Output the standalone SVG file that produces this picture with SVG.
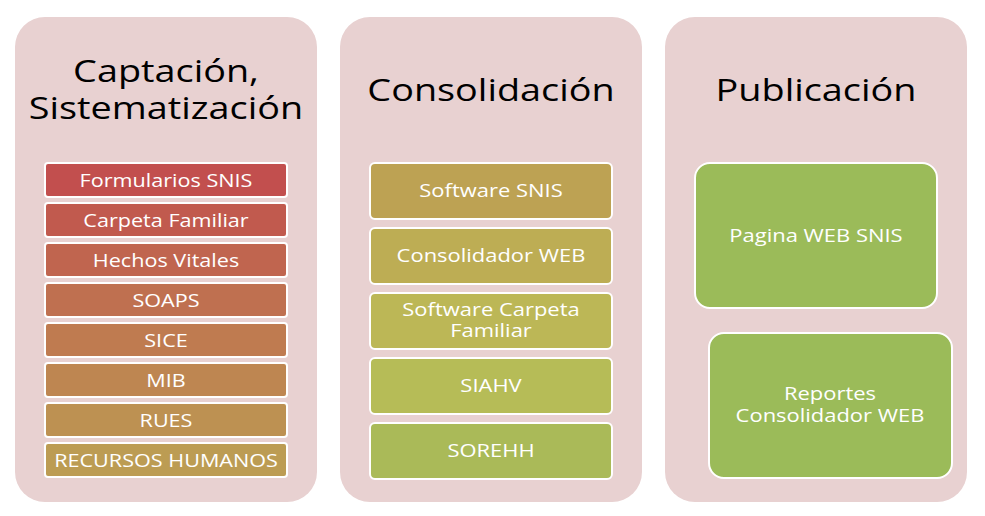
<svg xmlns="http://www.w3.org/2000/svg" width="985" height="516" viewBox="0 0 985 516">
<style>
.panel{fill:#E8D1D1}
.item{stroke:#FFFFFF;stroke-width:2}
.title{font-family:"Open Sans","Liberation Sans",sans-serif;font-size:31px;fill:#000000;text-anchor:middle}
.lbl{font-family:"Open Sans","Liberation Sans",sans-serif;font-size:18px;fill:#FFFFFF;text-anchor:middle}
</style>
<rect width="985" height="516" fill="#FFFFFF"/>
<g id="panel-captacion">
<rect class="panel" x="15" y="17" width="302" height="485" rx="30"/>
<text class="title" transform="translate(166 82) scale(1.22 1)">Captación,</text>
<text class="title" transform="translate(166 119) scale(1.22 1)">Sistematización</text>
</g>
<g id="panel-consolidacion">
<rect class="panel" x="340" y="17" width="302" height="485" rx="30"/>
<text class="title" transform="translate(491 101) scale(1.22 1)">Consolidación</text>
</g>
<g id="panel-publicacion">
<rect class="panel" x="665" y="17" width="302" height="485" rx="30"/>
<text class="title" transform="translate(816 101) scale(1.22 1)">Publicación</text>
</g>
<g id="n-formularios"><rect class="item" x="45" y="163" width="242" height="34" rx="3" fill="#C24F4E"/><text class="lbl" transform="translate(166 187) scale(1.2 1)">Formularios SNIS</text></g>
<g id="n-carpeta"><rect class="item" x="45" y="203" width="242" height="34" rx="3" fill="#C15A4E"/><text class="lbl" transform="translate(166 227) scale(1.2 1)">Carpeta Familiar</text></g>
<g id="n-hechos"><rect class="item" x="45" y="243" width="242" height="34" rx="3" fill="#C0654F"/><text class="lbl" transform="translate(166 267) scale(1.2 1)">Hechos Vitales</text></g>
<g id="n-soaps"><rect class="item" x="45" y="283" width="242" height="34" rx="3" fill="#BF7050"/><text class="lbl" transform="translate(166 307) scale(1.2 1)">SOAPS</text></g>
<g id="n-sice"><rect class="item" x="45" y="323" width="242" height="34" rx="3" fill="#BF7B50"/><text class="lbl" transform="translate(166 347) scale(1.2 1)">SICE</text></g>
<g id="n-mib"><rect class="item" x="45" y="363" width="242" height="34" rx="3" fill="#BE8651"/><text class="lbl" transform="translate(166 387) scale(1.2 1)">MIB</text></g>
<g id="n-rues"><rect class="item" x="45" y="403" width="242" height="34" rx="3" fill="#BD9152"/><text class="lbl" transform="translate(166 427) scale(1.2 1)">RUES</text></g>
<g id="n-rrhh"><rect class="item" x="45" y="443" width="242" height="34" rx="3" fill="#BC9C53"/><text class="lbl" transform="translate(166 467) scale(1.2 1)">RECURSOS HUMANOS</text></g>
<g id="n-software-snis"><rect class="item" x="370" y="163" width="242" height="56" rx="5" fill="#BDA253"/><text class="lbl" transform="translate(491 197) scale(1.22 1)">Software SNIS</text></g>
<g id="n-consolidador"><rect class="item" x="370" y="228" width="242" height="56" rx="5" fill="#BDAD54"/><text class="lbl" transform="translate(491 262) scale(1.22 1)">Consolidador WEB</text></g>
<g id="n-software-carpeta"><rect class="item" x="370" y="293" width="242" height="56" rx="5" fill="#BCB756"/><text class="lbl" transform="translate(491 316) scale(1.22 1)">Software Carpeta</text><text class="lbl" transform="translate(491 337) scale(1.22 1)">Familiar</text></g>
<g id="n-siahv"><rect class="item" x="370" y="358" width="242" height="56" rx="5" fill="#B6BC57"/><text class="lbl" transform="translate(491 392) scale(1.22 1)">SIAHV</text></g>
<g id="n-sorehh"><rect class="item" x="370" y="423" width="242" height="56" rx="5" fill="#AABA58"/><text class="lbl" transform="translate(491 457) scale(1.22 1)">SOREHH</text></g>
<g id="n-pagina"><rect class="item" x="695" y="163" width="242" height="145" rx="15" fill="#9BBB59"/><text class="lbl" transform="translate(816 242) scale(1.22 1)">Pagina WEB SNIS</text></g>
<g id="n-reportes"><rect class="item" x="709" y="333" width="243" height="145" rx="15" fill="#9BBB59"/><text class="lbl" transform="translate(830 400) scale(1.22 1)">Reportes</text><text class="lbl" transform="translate(830 422) scale(1.22 1)">Consolidador WEB</text></g>
<g id="connectors"></g>
</svg>
